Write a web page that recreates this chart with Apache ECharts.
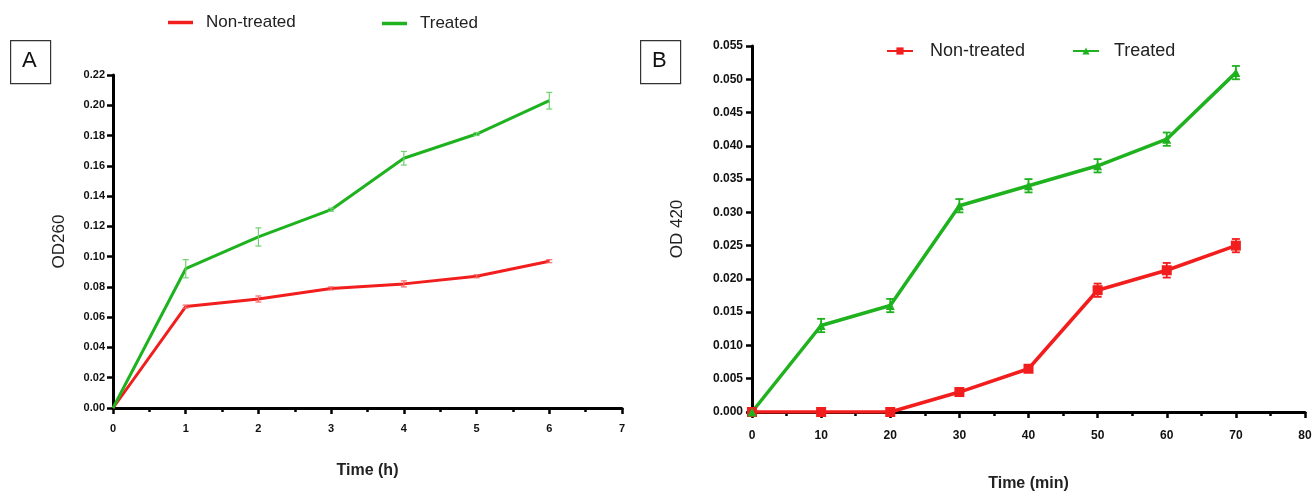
<!DOCTYPE html>
<html>
<head>
<meta charset="utf-8">
<script src="https://cdn.jsdelivr.net/npm/echarts@6/dist/echarts.min.js"></script>
<style>
  html, body { margin: 0; padding: 0; background: #fff; }
  #chart { width: 1312px; height: 494px; }
</style>
</head>
<body>
<div id="chart"></div>
<script>
// panel A: OD260 vs time (h)
const hoursA = [0, 1, 2, 3, 4, 5, 6]
const nonTreatedA = [0, 0.067, 0.072, 0.079, 0.082, 0.087, 0.097]
const nonTreatedErrA = [0, 0.001, 0.002, 0.001, 0.002, 0.001, 0.001]
const treatedA = [0, 0.092, 0.113, 0.131, 0.165, 0.181, 0.203]
const treatedErrA = [0, 0.006, 0.006, 0.001, 0.0045, 0.001, 0.0055]

// panel B: OD 420 vs time (min)
const minutesB = [0, 10, 20, 30, 40, 50, 60, 70]
const nonTreatedB = [0, 0, 0, 0.003, 0.0065, 0.0183, 0.0213, 0.025]
const nonTreatedErrB = [0, 0.0002, 0.0002, 0.0004, 0.0004, 0.001, 0.0011, 0.001]
const treatedB = [0, 0.013, 0.016, 0.031, 0.034, 0.037, 0.041, 0.051]
const treatedErrB = [0, 0.001, 0.001, 0.001, 0.001, 0.001, 0.001, 0.001]

const RED = '#f21d1d'
const GREEN = '#1fb21f'
const FONT = 'Liberation Sans, Arial, sans-serif'

const pairs = (xs, ys) => xs.map((x, i) => [x, ys[i]])
const triples = (xs, ys, es) => xs.map((x, i) => [x, ys[i], es[i]])

function errorBars(name, axisIndex, data, color, width, cap) {
  return {
    name,
    type: 'custom',
    xAxisIndex: axisIndex,
    yAxisIndex: axisIndex,
    data,
    z: 5,
    silent: true,
    renderItem: (params, api) => {
      const x = api.value(0)
      const y = api.value(1)
      const e = api.value(2)
      if (!e) return null
      const top = api.coord([x, y + e])
      const bot = api.coord([x, y - e])
      const style = { stroke: color, lineWidth: width }
      return {
        type: 'group',
        children: [
          { type: 'line', shape: { x1: top[0], y1: top[1], x2: bot[0], y2: bot[1] }, style },
          { type: 'line', shape: { x1: top[0] - cap, y1: top[1], x2: top[0] + cap, y2: top[1] }, style },
          { type: 'line', shape: { x1: bot[0] - cap, y1: bot[1], x2: bot[0] + cap, y2: bot[1] }, style },
        ],
      }
    },
  }
}

const axisLine = { show: true, onZero: false, lineStyle: { color: '#000', width: 3 } }
const axisTick = { show: true, length: 6, lineStyle: { color: '#000', width: 2.5 } }
const minorTick = { show: true, splitNumber: 2, length: 4, lineStyle: { color: '#000', width: 2.5 } }
const tickLabel = { color: '#111', fontFamily: FONT, fontWeight: 'bold', fontSize: 11 }

const chart = echarts.init(document.getElementById('chart'))

chart.setOption({
  animation: false,
  grid: [
    { left: 113, top: 75, width: 509, height: 333, outerBoundsMode: 'none', containLabel: false },
    { left: 752, top: 46, width: 553, height: 366, outerBoundsMode: 'none', containLabel: false },
  ],
  legend: [
    {
      data: ['Non-treated'], left: 163, top: 9, icon: 'rect',
      itemWidth: 25, itemHeight: 3.5,
      textStyle: { fontFamily: FONT, fontSize: 17, color: '#222', padding: [0, 0, 0, 8] },
    },
    {
      data: ['Treated'], left: 377, top: 10, icon: 'rect',
      itemWidth: 25, itemHeight: 3.5,
      textStyle: { fontFamily: FONT, fontSize: 17, color: '#222', padding: [0, 0, 0, 8] },
    },
    {
      data: ['Non-treated '], left: 881, top: 37,
      itemWidth: 26, itemHeight: 9,
      textStyle: { fontFamily: FONT, fontSize: 18, color: '#222', padding: [0, 0, 0, 12] },
    },
    {
      data: ['Treated '], left: 1067, top: 37,
      itemWidth: 26, itemHeight: 9,
      textStyle: { fontFamily: FONT, fontSize: 18, color: '#222', padding: [0, 0, 0, 10] },
    },
  ],
  xAxis: [
    {
      gridIndex: 0, type: 'value', min: 0, max: 7, interval: 1,
      name: 'Time (h)', nameLocation: 'middle', nameGap: 55,
      nameTextStyle: { fontFamily: FONT, fontWeight: 'bold', fontSize: 16, color: '#222' },
      axisLine, axisTick, minorTick,
      axisLabel: { ...tickLabel, margin: 15 },
      splitLine: { show: false },
    },
    {
      gridIndex: 1, type: 'value', min: 0, max: 80, interval: 10,
      name: 'Time (min)', nameLocation: 'middle', nameGap: 64,
      nameTextStyle: { fontFamily: FONT, fontWeight: 'bold', fontSize: 16, color: '#222' },
      axisLine, axisTick, minorTick,
      axisLabel: { ...tickLabel, fontSize: 12, margin: 18 },
      splitLine: { show: false },
    },
  ],
  yAxis: [
    {
      gridIndex: 0, type: 'value', min: 0, max: 0.22, interval: 0.02,
      name: 'OD260', nameLocation: 'middle', nameGap: 45,
      nameTextStyle: { fontFamily: FONT, fontSize: 17, color: '#222' },
      axisLine, axisTick,
      axisLabel: { ...tickLabel, margin: 8, formatter: (v) => v.toFixed(2) },
      splitLine: { show: false },
    },
    {
      gridIndex: 1, type: 'value', min: 0, max: 0.055, interval: 0.005,
      name: 'OD 420', nameLocation: 'middle', nameGap: 66,
      nameTextStyle: { fontFamily: FONT, fontSize: 17, color: '#222' },
      axisLine, axisTick,
      axisLabel: { ...tickLabel, fontSize: 12, margin: 9, formatter: (v) => v.toFixed(3) },
      splitLine: { show: false },
    },
  ],
  series: [
    {
      name: 'Non-treated', type: 'line', xAxisIndex: 0, yAxisIndex: 0,
      data: pairs(hoursA, nonTreatedA), showSymbol: false, symbol: 'none',
      lineStyle: { color: RED, width: 3 }, itemStyle: { color: RED },
    },
    {
      name: 'Treated', type: 'line', xAxisIndex: 0, yAxisIndex: 0,
      data: pairs(hoursA, treatedA), showSymbol: false, symbol: 'none',
      lineStyle: { color: GREEN, width: 3 }, itemStyle: { color: GREEN },
    },
    errorBars('errNonA', 0, triples(hoursA, nonTreatedA, nonTreatedErrA), '#f46a6a', 1.2, 3),
    errorBars('errTreatedA', 0, triples(hoursA, treatedA, treatedErrA), '#6fd16f', 1.2, 3),
    {
      name: 'Non-treated ', type: 'line', xAxisIndex: 1, yAxisIndex: 1,
      data: pairs(minutesB, nonTreatedB), symbol: 'rect', symbolSize: 10,
      lineStyle: { color: RED, width: 3.5 }, itemStyle: { color: RED },
    },
    {
      name: 'Treated ', type: 'line', xAxisIndex: 1, yAxisIndex: 1,
      data: pairs(minutesB, treatedB), symbol: 'triangle', symbolSize: 9,
      lineStyle: { color: GREEN, width: 3.5 }, itemStyle: { color: GREEN },
    },
    errorBars('errNonB', 1, triples(minutesB, nonTreatedB, nonTreatedErrB), RED, 1.8, 4),
    errorBars('errTreatedB', 1, triples(minutesB, treatedB, treatedErrB), GREEN, 1.8, 4),
  ],
  graphic: [
    { type: 'rect', left: 10, top: 40, shape: { width: 40, height: 43 }, style: { fill: '#fff', stroke: '#333', lineWidth: 1.2 } },
    { type: 'text', left: 22, top: 50, style: { text: 'A', font: '22px ' + FONT, fill: '#111' } },
    { type: 'rect', left: 640, top: 40, shape: { width: 40, height: 43 }, style: { fill: '#fff', stroke: '#333', lineWidth: 1.2 } },
    { type: 'text', left: 652, top: 50, style: { text: 'B', font: '22px ' + FONT, fill: '#111' } },
  ],
})
</script>
</body>
</html>
